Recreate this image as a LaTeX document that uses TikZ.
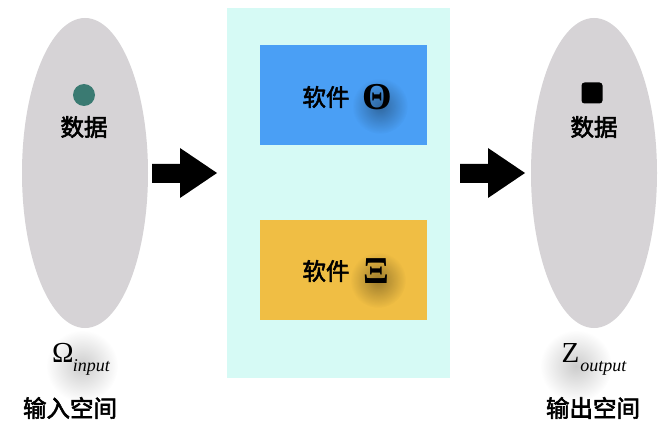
\documentclass[tikz,border=0pt]{standalone}
\usepackage{fontspec}
\setmainfont{Liberation Serif}
\newfontfamily\cjk[FakeBold=2.5]{Noto Sans CJK SC}
\usetikzlibrary{fadings}
\definecolor{ellgray}{HTML}{D6D3D6}
\definecolor{panelcyan}{HTML}{D6FAF5}
\definecolor{boxblue}{HTML}{4A9FF5}
\definecolor{boxyellow}{HTML}{F0BE44}
\definecolor{dotteal}{HTML}{3A7A72}
\tikzfading[name=softglow, inner color=transparent!0, outer color=transparent!100]
\tikzset{
  cjklabel/.style={font=\cjk\fontsize{23.5}{26}\selectfont, inner sep=0pt},
  greek/.style={font=\fontsize{38}{40}\selectfont, inner sep=0pt},
  glow/.style={fill=black, opacity=0.35, path fading=softglow},
  bigarrow/.style={fill=black},
}
\begin{document}
\begin{tikzpicture}[x=1pt,y=-1pt]
\useasboundingbox (0,0) rectangle (670,441);
\fill[white] (0,0) rectangle (670,441);
% panels
\fill[panelcyan] (227,8) rectangle (450,378);
\fill[ellgray] (85,173) ellipse [x radius=63, y radius=155];
\fill[ellgray] (594,173) ellipse [x radius=63, y radius=155];
\fill[boxblue] (260,45) rectangle (427,145);
\fill[boxyellow] (260,220) rectangle (427,320);
% glows
\fill[glow] (380,106) circle (28);
\fill[glow] (378,280) circle (28);
\fill[glow, opacity=0.2] (82,366) circle (36);
\fill[glow, opacity=0.2] (576,366) circle (36);
% arrows
\fill[bigarrow] (152,164) -- (180,164) -- (180,148) -- (217,173) -- (180,198) -- (180,183) -- (152,183) -- cycle;
\fill[bigarrow] (460,164) -- (488,164) -- (488,148) -- (525,173) -- (488,198) -- (488,183) -- (460,183) -- cycle;
% data symbols
\node[circle, fill=dotteal, minimum size=22pt, inner sep=0pt] (din) at (84,95) {};
\node[rectangle, rounded corners=3pt, fill=black, minimum size=21pt, inner sep=0pt] (dout) at (592,93) {};
\node[cjklabel] (lin) at (84,127) {数据};
\node[cjklabel] (lout) at (594,127) {数据};
% software
\node[cjklabel] (s1) at (326,97) {软件};
\node[greek] (th) at (377,97) {\textbf{Θ}};
\node[cjklabel] (s2) at (326,271) {软件};
\node[greek] (xi) at (376,271) {\textbf{Ξ}};
% spaces
\node[font=\fontsize{29}{30}\selectfont, inner sep=0pt] (om) at (81,359) {Ω\kern-1pt\raisebox{-9pt}{\fontsize{18}{18}\selectfont\itshape input}};
\node[font=\fontsize{29}{30}\selectfont, inner sep=0pt] (zo) at (594,359) {Z\kern1pt\raisebox{-9pt}{\fontsize{18}{18}\selectfont\itshape output}};
\node[cjklabel] (sin) at (70,408) {输入空间};
\node[cjklabel] (sout) at (593,408) {输出空间};
\end{tikzpicture}
\end{document}
